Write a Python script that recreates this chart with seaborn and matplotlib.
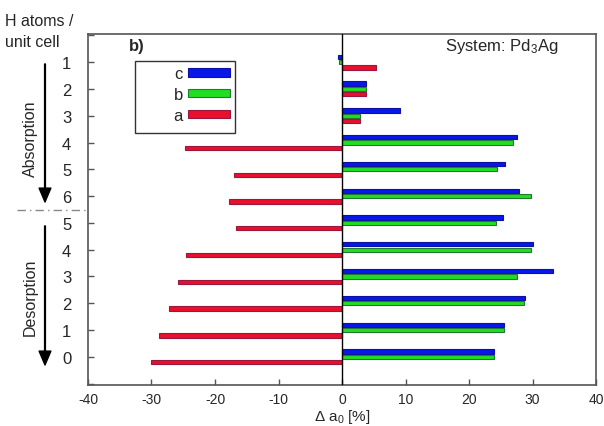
import matplotlib
matplotlib.use("Agg")
import matplotlib.pyplot as plt
import seaborn as sns
import pandas as pd
from matplotlib.patches import Rectangle, Patch

# ---- data ----
row_keys = ["abs1", "abs2", "abs3", "abs4", "abs5", "abs6",
            "des5", "des4", "des3", "des2", "des1", "des0"]
row_labels = ["1", "2", "3", "4", "5", "6", "5", "4", "3", "2", "1", "0"]
a_vals = [5.4, 3.8, 2.9, -24.7, -17.0, -17.8, -16.7, -24.6, -25.9, -27.2, -28.8, -30.1]
b_vals = [-0.5, 3.8, 2.9, 27.0, 24.4, 29.7, 24.3, 29.8, 27.5, 28.7, 25.5, 23.9]
c_vals = [-0.6, 3.8, 9.2, 27.6, 25.7, 27.9, 25.4, 30.1, 33.2, 28.8, 25.5, 24.0]
x_ticks = [-40, -30, -20, -10, 0, 10, 20, 30, 40]

series = {"c": c_vals, "b": b_vals, "a": a_vals}
fills = {"c": "#0818e8", "b": "#22dd22", "a": "#e8102c"}
edges = {"c": "#1010a0", "b": "#207a30", "a": "#9a1840"}

df = pd.DataFrame([
    {"row": k, "axis": s, "val": v}
    for s, vals in series.items() for k, v in zip(row_keys, vals)
])

sns.set_style("ticks")
plt.rcParams["font.family"] = ["Liberation Sans", "DejaVu Sans"]
plt.rcParams["mathtext.fontset"] = "custom"
plt.rcParams["mathtext.rm"] = "Liberation Sans"
plt.rcParams["mathtext.it"] = "Liberation Sans:italic"

fig = plt.figure(figsize=(6.04, 4.27), dpi=100)
W, H = 604, 427
ax = fig.add_axes([88 / W, 1 - 386 / H, (596 - 88) / W, (386 - 35) / H])

sns.barplot(data=df, x="val", y="row", hue="axis", order=row_keys,
            hue_order=["c", "b", "a"], palette=fills, width=0.6,
            orient="h", ax=ax, legend=False, saturation=1)

# style bars: thinner with dark edge
for cont, s in zip(ax.containers, ["c", "b", "a"]):
    for p in cont:
        y0, h = p.get_y(), p.get_height()
        nh = 0.16
        p.set_y(y0 + (h - nh) / 2)
        p.set_height(nh)
        p.set_edgecolor(edges[s])
        p.set_linewidth(0.8)

ax.set_xlim(-40, 40)
ax.set_ylim(12.05, -1.05)
ax.set_xticks(x_ticks)
ax.set_xticklabels([str(t) for t in x_ticks], fontsize=10)
ax.set_yticks(range(-1, 13))
ax.set_yticklabels([""] + row_labels + [""], fontsize=12)
ax.tick_params(axis="both", direction="in", length=4, width=1, color="#555555")
ax.tick_params(axis="y", pad=12)
ax.tick_params(axis="x", pad=5)
ax.set_ylabel("")
ax.set_xlabel("Δ a$_0$ [%]", fontsize=11, labelpad=1)

for sp in ax.spines.values():
    sp.set_visible(True)
    sp.set_color("#555555")
    sp.set_linewidth(1.2)

ax.axvline(0, color="black", lw=1, zorder=3)

# separator line between absorption and desorption
ax.plot([-0.14, 0], [5.5, 5.5], transform=ax.get_yaxis_transform(),
        clip_on=False, ls=(0, (6, 3, 1, 3)), color="#888888", lw=1)

# texts
fig.text(5 / W, 1 - 32 / H, "H atoms /\nunit cell", fontsize=11.5,
         va="center", ha="left", linespacing=1.45)
fig.text(30 / W, 1 - 139 / H, "Absorption", rotation=90, fontsize=11.5,
         ha="center", va="center")
fig.text(30 / W, 1 - 297 / H, "Desorption", rotation=90, fontsize=11.5,
         ha="center", va="center")
ax.annotate("", xy=(45, H - 203), xytext=(45, H - 65), xycoords="figure pixels",
            textcoords="figure pixels",
            arrowprops=dict(width=0.6, headwidth=8.5, headlength=10,
                            facecolor="black", edgecolor="black", shrink=0))
ax.annotate("", xy=(45, H - 366), xytext=(45, H - 227), xycoords="figure pixels",
            textcoords="figure pixels",
            arrowprops=dict(width=0.6, headwidth=8.5, headlength=10,
                            facecolor="black", edgecolor="black", shrink=0))

fig.text(129 / W, 1 - 46 / H, "b)", fontsize=12, fontweight="bold",
         ha="left", va="center")
fig.text(445 / W, 1 - 46 / H, "System: Pd$_3$Ag", fontsize=12,
         ha="left", va="center")

# legend
handles = [Patch(facecolor=fills[s], edgecolor=edges[s], linewidth=0.8)
           for s in ["c", "b", "a"]]
leg = fig.legend(handles, ["c", "b", "a"], loc="upper right",
                 bbox_to_anchor=(233 / W, 1 - 64 / H), bbox_transform=fig.transFigure,
                 frameon=False, markerfirst=False, fontsize=12,
                 handlelength=2.5, handleheight=0.4, labelspacing=0.35,
                 handletextpad=0.3, borderpad=0.2, borderaxespad=0)
fig.add_artist(Rectangle((135 / W, 1 - 134 / H), 100 / W, 72 / H,
                         transform=fig.transFigure, fill=False,
                         edgecolor="#333333", lw=1))

fig.savefig("out.png", dpi=100)
